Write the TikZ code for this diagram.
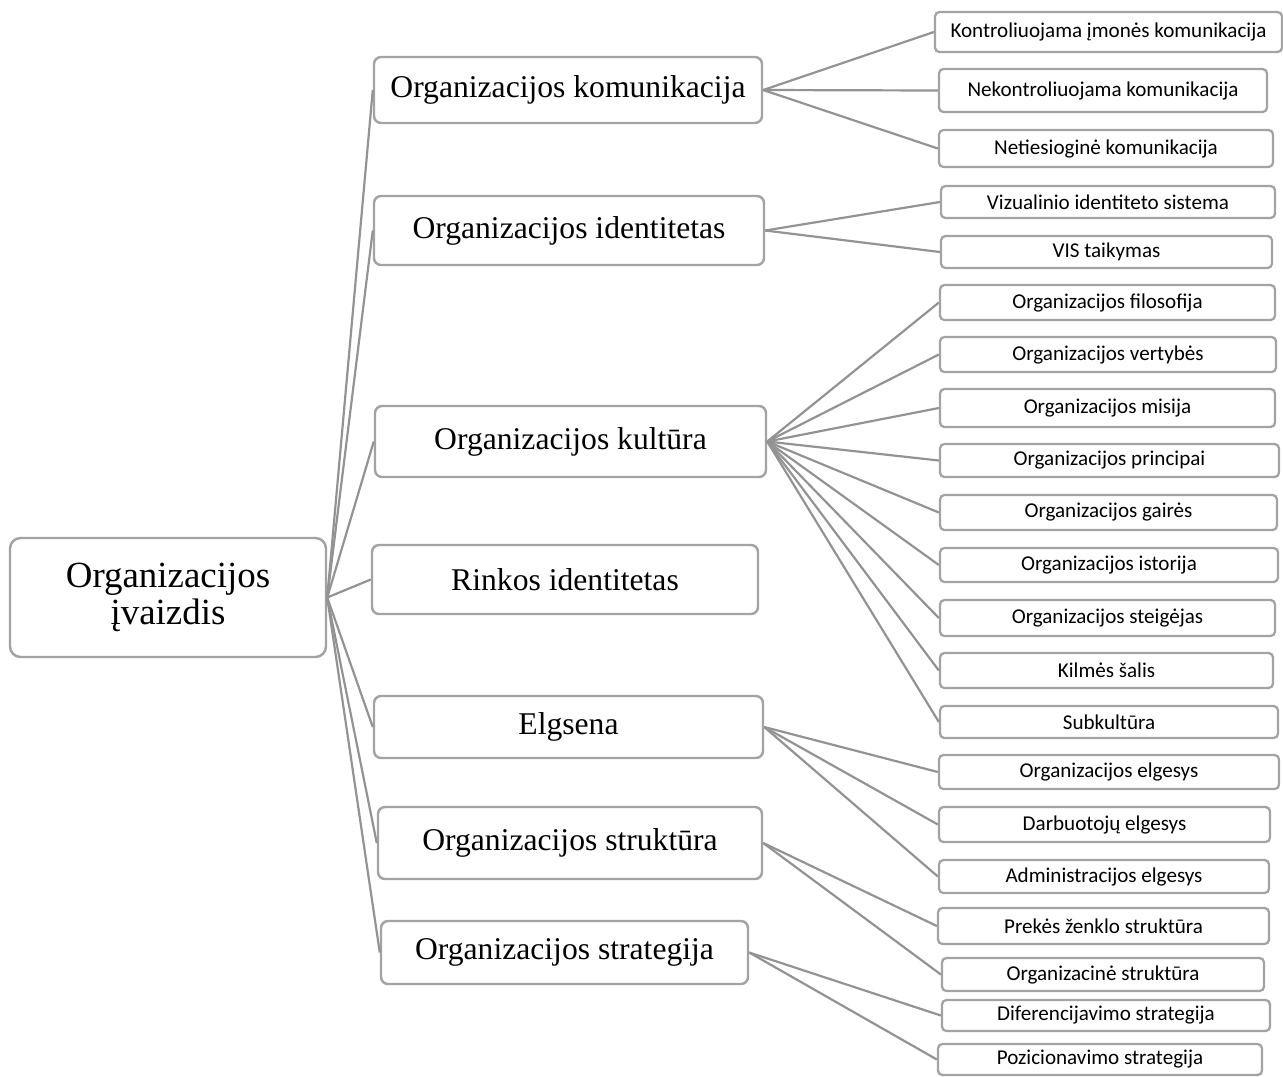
\documentclass[tikz,border=0pt]{standalone}
\usepackage{fontspec}
\setmainfont{Liberation Serif}
\newfontfamily\calibrifont{Carlito}
\usepackage{xcolor}
\definecolor{linegray}{HTML}{939393}
\definecolor{boxgray}{HTML}{A3A3A3}

\tikzset{
  rootbox/.style={draw=boxgray, line width=1.4pt, fill=white, rounded corners=6pt,
    align=center, inner sep=2pt, font=\fontsize{21}{21.5}\selectfont},
  topicbox/.style={draw=boxgray, line width=1.4pt, fill=white, rounded corners=4pt,
    inner sep=2pt, font=\fontsize{18}{20}\selectfont},
  itembox/.style={draw=boxgray, line width=1.3pt, fill=white, rounded corners=2.5pt,
    inner sep=1pt, font=\calibrifont\fontsize{12}{14}\selectfont},
  link/.style={linegray, line width=1.25pt}
}

\begin{document}
\begin{tikzpicture}
  \useasboundingbox (0,0) rectangle (25.66,-21.52);

  % root
  \node[rootbox, minimum width=6.32cm, minimum height=2.38cm] (root) at (3.36,-11.95) {Organizacijos\\įvaizdis};

  % first level
  \node[topicbox, minimum width=7.76cm, minimum height=1.32cm] (komun) at (11.36,-1.80) {Organizacijos komunikacija};
  \node[topicbox, minimum width=7.80cm, minimum height=1.38cm] (ident) at (11.38,-4.61) {Organizacijos identitetas};
  \node[topicbox, minimum width=7.82cm, minimum height=1.42cm] (kult) at (11.41,-8.83) {Organizacijos kultūra};
  \node[topicbox, minimum width=7.72cm, minimum height=1.38cm] (rinka) at (11.30,-11.59) {Rinkos identitetas};
  \node[topicbox, minimum width=7.78cm, minimum height=1.24cm] (elgs) at (11.37,-14.54) {Elgsena};
  \node[topicbox, minimum width=7.68cm, minimum height=1.44cm] (strukt) at (11.40,-16.86) {Organizacijos struktūra};
  \node[topicbox, minimum width=7.34cm, minimum height=1.26cm] (strat) at (11.29,-19.05) {Organizacijos strategija};

  % second level
  \node[itembox, minimum width=6.94cm, minimum height=0.80cm] (kontr) at (22.17,-0.64) {Kontroliuojama įmonės komunikacija};
  \node[itembox, minimum width=6.56cm, minimum height=0.86cm] (nekontr) at (22.06,-1.81) {Nekontroliuojama komunikacija};
  \node[itembox, minimum width=6.68cm, minimum height=0.74cm] (netiesiog) at (22.12,-2.97) {Netiesioginė komunikacija};
  \node[itembox, minimum width=6.68cm, minimum height=0.64cm] (vizual) at (22.16,-4.04) {Vizualinio identiteto sistema};
  \node[itembox, minimum width=6.62cm, minimum height=0.64cm] (vis) at (22.13,-5.04) {VIS taikymas};
  \node[itembox, minimum width=6.70cm, minimum height=0.70cm] (filos) at (22.15,-6.05) {Organizacijos filosofija};
  \node[itembox, minimum width=6.72cm, minimum height=0.70cm] (vertyb) at (22.16,-7.09) {Organizacijos vertybės};
  \node[itembox, minimum width=6.70cm, minimum height=0.76cm] (misija) at (22.15,-8.16) {Organizacijos misija};
  \node[itembox, minimum width=6.78cm, minimum height=0.66cm] (princ) at (22.19,-9.21) {Organizacijos principai};
  \node[itembox, minimum width=6.74cm, minimum height=0.70cm] (gaires) at (22.17,-10.25) {Organizacijos gairės};
  \node[itembox, minimum width=6.76cm, minimum height=0.68cm] (istor) at (22.18,-11.30) {Organizacijos istorija};
  \node[itembox, minimum width=6.70cm, minimum height=0.72cm] (steig) at (22.15,-12.36) {Organizacijos steigėjas};
  \node[itembox, minimum width=6.66cm, minimum height=0.70cm] (kilmes) at (22.13,-13.41) {Kilmės šalis};
  \node[itembox, minimum width=6.76cm, minimum height=0.64cm] (subkult) at (22.18,-14.44) {Subkultūra};
  \node[itembox, minimum width=6.80cm, minimum height=0.68cm] (orgelg) at (22.18,-15.44) {Organizacijos elgesys};
  \node[itembox, minimum width=6.62cm, minimum height=0.70cm] (darbelg) at (22.09,-16.49) {Darbuotojų elgesys};
  \node[itembox, minimum width=6.60cm, minimum height=0.66cm] (admelg) at (22.08,-17.53) {Administracijos elgesys};
  \node[itembox, minimum width=6.62cm, minimum height=0.72cm] (prekes) at (22.07,-18.52) {Prekės ženklo struktūra};
  \node[itembox, minimum width=6.44cm, minimum height=0.66cm] (orgstr) at (22.06,-19.49) {Organizacinė struktūra};
  \node[itembox, minimum width=6.56cm, minimum height=0.62cm] (difer) at (22.12,-20.31) {Diferencijavimo strategija};
  \node[itembox, minimum width=6.48cm, minimum height=0.62cm] (pozic) at (22.00,-21.19) {Pozicionavimo strategija};

  % connectors
  \foreach \t in {komun,ident,kult,rinka,elgs,strukt,strat}
    \draw[link] (root.east) -- (\t.west);
  \foreach \t in {kontr,nekontr,netiesiog}
    \draw[link] (komun.east) -- (\t.west);
  \foreach \t in {vizual,vis}
    \draw[link] (ident.east) -- (\t.west);
  \foreach \t in {filos,vertyb,misija,princ,gaires,istor,steig,kilmes,subkult}
    \draw[link] (kult.east) -- (\t.west);
  \foreach \t in {orgelg,darbelg,admelg}
    \draw[link] (elgs.east) -- (\t.west);
  \foreach \t in {prekes,orgstr}
    \draw[link] (strukt.east) -- (\t.west);
  \foreach \t in {difer,pozic}
    \draw[link] (strat.east) -- (\t.west);
\end{tikzpicture}
\end{document}
